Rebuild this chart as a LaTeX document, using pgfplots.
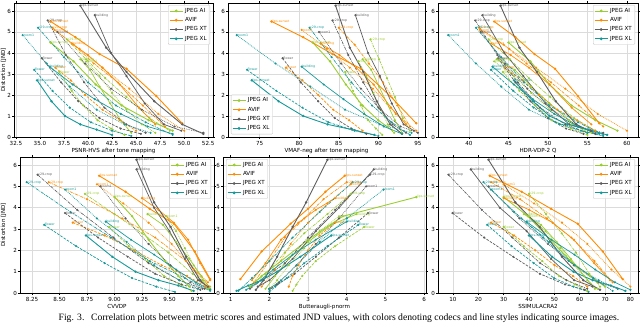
\documentclass[border=0pt]{standalone}
\usepackage{pgfplots}
\pgfplotsset{compat=1.18}
\usepackage{fontspec}
\setmainfont{DejaVu Sans}
\newfontfamily\capfont{Liberation Serif}
\definecolor{aicol}{HTML}{9ACD32}
\definecolor{avcol}{HTML}{FF8C00}
\definecolor{xtcol}{HTML}{5E5E5E}
\definecolor{xlcol}{HTML}{17999A}
\newcommand\fs{\fontsize{5.6}{6.2}\selectfont}
\newcommand\lfs{\fontsize{3.2}{3.5}\selectfont}
\pgfplotsset{
  pan/.style={scale only axis, anchor=south west, ymin=0, ymax=6.38, ytick={0,1,2,3,4,5,6}, yticklabels={0,1,2,3,4,5,6},
    xmajorgrids, ymajorgrids, grid style={gray!28, line width=0.5bp},
    tick align=outside, major tick length=2bp, tick style={black, line width=0.5bp},
    axis line style={line width=0.5bp},
    tick label style={font=\fs}, label style={font=\fs},
    xticklabel style={yshift=1.2bp}, yticklabel style={inner sep=1bp},
    xlabel style={yshift=4.5bp},
    legend cell align=left,
    legend style={font=\fs, draw=gray!45, fill=white, fill opacity=0.85, text opacity=1, rounded corners=1bp, inner xsep=1bp, inner ysep=0.9bp, row sep=-0.3bp},
    legend image code/.code={\draw[mark repeat=2,mark phase=2] plot coordinates {(0bp,0bp) (6.5bp,0bp) (13bp,0bp)};},
  },
  cAI/.style={draw=aicol, mark=*, mark size=0.7bp, mark options={solid, fill=aicol, draw=aicol}, forget plot},
  cAV/.style={draw=avcol, mark=*, mark size=0.7bp, mark options={solid, fill=avcol, draw=avcol}, forget plot},
  cXT/.style={draw=xtcol, mark=*, mark size=0.7bp, mark options={solid, fill=xtcol, draw=xtcol}, forget plot},
  cXL/.style={draw=xlcol, mark=*, mark size=0.7bp, mark options={solid, fill=xlcol, draw=xlcol}, forget plot},
  gAI/.style={draw=aicol, mark=*, mark size=1bp, mark options={solid, fill=aicol, draw=aicol}, line width=0.8bp},
  gAV/.style={draw=avcol, mark=*, mark size=1bp, mark options={solid, fill=avcol, draw=avcol}, line width=0.8bp},
  gXT/.style={draw=xtcol, mark=*, mark size=1bp, mark options={solid, fill=xtcol, draw=xtcol}, line width=0.8bp},
  gXL/.style={draw=xlcol, mark=*, mark size=1bp, mark options={solid, fill=xlcol, draw=xlcol}, line width=0.8bp},
  lp/.style={solid, line width=0.9bp},
  bd/.style={solid, line width=0.7bp},
  cc/.style={dash pattern=on 3bp off 1bp on 0.8bp off 1bp, line width=0.65bp},
  zm/.style={dash pattern=on 0.8bp off 1bp, line width=0.7bp},
  fl/.style={dash pattern=on 2.6bp off 1.3bp, line width=0.7bp},
}
\newcommand\legs{\addlegendimage{gAI}\addlegendentry{JPEG AI}\addlegendimage{gAV}\addlegendentry{AVIF}\addlegendimage{gXT}\addlegendentry{JPEG XT}\addlegendimage{gXL}\addlegendentry{JPEG XL}}
\newcommand\lab[2]{\addplot[forget plot, draw=none, mark=none, point meta=explicit symbolic, nodes near coords, nodes near coords style={font=\lfs, text=#1, anchor=west, inner sep=0.5bp}] coordinates {#2};}
\begin{document}
\begin{tikzpicture}
\path[use as bounding box] (0,0) rectangle (640bp,323bp);
% ---------------- Panel 1: PSNR-HVS
\begin{axis}[pan, at={(14bp,186bp)}, width=199bp, height=134bp, xmin=32.3, xmax=53.0,
  xtick={32.5,35,37.5,40,42.5,45,47.5,50,52.5}, xticklabels={32.5,35.0,37.5,40.0,42.5,45.0,47.5,50.0,52.5},
  xlabel={PSNR-HVS after tone mapping}, ylabel={Distortion [JND]},
  every axis y label/.style={at={(axis description cs:-0.053,0.5)}, anchor=center, rotate=90, font=\fs},
  legend style={at={(0.985,0.985)}, anchor=north east}]
\addplot[cAI,lp] coordinates {(36.1,4.5)(38.5,3.6)(40.8,2.5)(43.5,1.5)(46.3,0.8)(48.8,0.3)};
\addplot[cAI,bd] coordinates {(39.2,3.7)(40.2,3.2)(41.2,2.4)(42.3,1.6)(43.4,0.8)(44.5,0.2)};
\addplot[cAI,cc] coordinates {(37.8,4.65)(39.8,3.7)(41.8,2.8)(44.0,1.9)(46.4,0.9)(48.5,0.3)};
\addplot[cAI,zm] coordinates {(39.8,3.6)(41.2,2.9)(42.5,2.1)(44.0,1.3)(45.6,0.6)(47.0,0.2)};
\addplot[cAI,fl] coordinates {(37.0,3.1)(38.3,2.2)(39.5,1.5)(41.0,0.8)(42.4,0.4)(43.8,0.1)};
\addplot[cAV,lp] coordinates {(36.1,5.5)(38.7,4.75)(41.2,3.95)(44.0,3.25)(47.1,1.95)(49.8,0.65)};
\addplot[cAV,bd] coordinates {(38.3,4.45)(40.0,3.9)(41.5,3.3)(43.3,2.5)(45.3,1.4)(47.0,0.6)};
\addplot[cAV,cc] coordinates {(36.3,5.2)(38.5,4.4)(40.6,3.5)(43.1,2.6)(45.7,1.5)(48.0,0.5)};
\addplot[cAV,zm] coordinates {(36.5,5.1)(39.1,4.2)(41.5,3.3)(44.3,2.3)(47.3,1.1)(50.0,0.3)};
\addplot[cAV,fl] coordinates {(36.6,3.3)(38.2,2.7)(39.7,2.0)(41.5,1.3)(43.3,0.8)(45.0,0.3)};
\addplot[cXT,lp] coordinates {(39.2,6.25)(41.9,4.25)(44.0,3.1)(46.9,1.7)(49.8,0.6)(52.0,0.15)};
\addplot[cXT,bd] coordinates {(40.7,5.8)(42.4,4.0)(44.0,2.9)(45.9,1.6)(47.9,0.6)(49.7,0.3)};
\addplot[cXT,cc] coordinates {(35.8,5.55)(37.7,3.9)(39.6,2.6)(41.7,1.4)(44.0,0.6)(46.0,0.2)};
\addplot[cXT,zm] coordinates {(36.8,5.0)(39.7,3.5)(42.4,2.3)(45.6,1.3)(49.0,0.5)(52.0,0.2)};
\addplot[cXT,fl] coordinates {(35.2,3.75)(37.2,2.6)(39.0,1.7)(41.2,0.9)(43.4,0.4)(45.5,0.15)};
\addplot[cXL,lp] coordinates {(34.7,2.7)(36.2,1.7)(37.6,1.0)(39.2,0.6)(40.9,0.35)(42.5,0.1)};
\addplot[cXL,bd] coordinates {(36.0,3.35)(38.4,2.5)(40.7,1.8)(43.4,1.1)(46.2,0.5)(48.8,0.15)};
\addplot[cXL,cc] coordinates {(34.8,5.2)(37.5,3.8)(40.0,2.6)(42.9,1.5)(46.0,0.7)(48.8,0.1)};
\addplot[cXL,zm] coordinates {(33.2,4.85)(35.7,3.5)(38.1,2.4)(40.9,1.3)(43.8,0.6)(46.5,0.2)};
\addplot[cXL,fl] coordinates {(34.4,3.2)(36.3,2.2)(38.1,1.4)(40.3,0.7)(42.5,0.3)(44.5,0.05)};
\lab{aicol}{(36.1,4.5)[lips-sunset] (39.2,3.7)[building] (37.8,4.65)[c29-crop] (39.8,3.6)[zoom1] (37.0,3.1)[flower]}
\lab{avcol}{(36.1,5.5)[lips-sunset] (38.3,4.45)[building] (36.3,5.2)[c29-crop] (36.5,5.1)[zoom1] (36.6,3.3)[flower]}
\lab{xtcol}{(39.2,6.25)[lips-sunset] (40.7,5.8)[building] (35.8,5.55)[c29-crop] (36.8,5.0)[zoom1] (35.2,3.75)[flower]}
\lab{xlcol}{(34.7,2.7)[lips-sunset] (36.0,3.35)[building] (34.8,5.2)[c29-crop] (33.2,4.85)[zoom1] (34.4,3.2)[flower]}
\legs
\end{axis}
% ---------------- Panel 2: VMAF-neg
\begin{axis}[pan, at={(228bp,186bp)}, width=197bp, height=134bp, xmin=71, xmax=95.9,
  xtick={75,80,85,90,95}, xticklabels={75,80,85,90,95},
  xlabel={VMAF-neg after tone mapping},
  legend style={at={(0.015,0.02)}, anchor=south west}]
\addplot[cAI,lp] coordinates {(81.7,4.5)(83.9,3.6)(85.9,2.5)(88.0,1.5)(90.0,0.8)(91.8,0.3)};
\addplot[cAI,bd] coordinates {(88.0,3.7)(89.1,3.2)(90.1,2.4)(91.1,1.6)(92.1,0.8)(93.0,0.2)};
\addplot[cAI,cc] coordinates {(89.0,4.65)(90.1,3.7)(91.1,2.8)(92.1,1.9)(93.1,0.9)(94.0,0.3)};
\addplot[cAI,zm] coordinates {(87.5,3.6)(88.5,2.9)(89.4,2.1)(90.3,1.3)(91.2,0.6)(92.0,0.2)};
\addplot[cAI,fl] coordinates {(85.8,3.1)(86.8,2.2)(87.8,1.5)(88.7,0.8)(89.7,0.4)(90.5,0.1)};
\addplot[cAV,lp] coordinates {(76.5,5.5)(80.5,4.75)(84.2,3.95)(87.8,3.25)(91.5,1.95)(94.8,0.65)};
\addplot[cAV,bd] coordinates {(82.7,4.45)(85.1,3.9)(87.2,3.3)(89.4,2.5)(91.6,1.4)(93.5,0.6)};
\addplot[cAV,cc] coordinates {(85.0,5.2)(87.0,4.4)(88.8,3.5)(90.6,2.6)(92.4,1.5)(94.0,0.5)};
\addplot[cAV,zm] coordinates {(80.3,5.1)(83.5,4.2)(86.4,3.3)(89.3,2.3)(92.2,1.1)(94.8,0.3)};
\addplot[cAV,fl] coordinates {(78.3,3.3)(80.4,2.7)(82.4,2.0)(84.3,1.3)(86.3,0.8)(88.0,0.3)};
\addplot[cXT,lp] coordinates {(84.6,6.25)(86.4,4.25)(88.1,3.1)(89.8,1.7)(91.5,0.6)(93.0,0.15)};
\addplot[cXT,bd] coordinates {(87.1,5.8)(88.7,4.0)(90.2,2.9)(91.7,1.6)(93.2,0.6)(94.5,0.3)};
\addplot[cXT,cc] coordinates {(84.2,5.55)(86.2,3.9)(88.1,2.6)(90.0,1.4)(91.8,0.6)(93.5,0.2)};
\addplot[cXT,zm] coordinates {(82.5,5.0)(85.3,3.5)(87.8,2.3)(90.3,1.3)(92.8,0.5)(95.0,0.2)};
\addplot[cXT,fl] coordinates {(77.9,3.75)(80.2,2.6)(82.4,1.7)(84.5,0.9)(86.6,0.4)(88.5,0.15)};
\addplot[cXL,lp] coordinates {(74.0,2.7)(77.4,1.7)(80.5,1.0)(83.6,0.6)(86.7,0.35)(89.5,0.1)};
\addplot[cXL,bd] coordinates {(80.3,3.35)(83.1,2.5)(85.6,1.8)(88.2,1.1)(90.7,0.5)(93.0,0.15)};
\addplot[cXL,cc] coordinates {(81.3,5.2)(84.1,3.8)(86.6,2.6)(89.2,1.5)(91.7,0.7)(94.0,0.1)};
\addplot[cXL,zm] coordinates {(72.1,4.85)(77.0,3.5)(81.4,2.4)(85.8,1.3)(90.2,0.6)(94.2,0.2)};
\addplot[cXL,fl] coordinates {(73.4,3.2)(77.1,2.2)(80.4,1.4)(83.7,0.7)(87.0,0.3)(90.0,0.05)};
\lab{aicol}{(81.7,4.5)[lips-sunset] (88.0,3.7)[building] (89.0,4.65)[c29-crop] (87.5,3.6)[zoom1] (85.8,3.1)[flower]}
\lab{avcol}{(76.5,5.5)[lips-sunset] (82.7,4.45)[building] (85.0,5.2)[c29-crop] (80.3,5.1)[zoom1] (78.3,3.3)[flower]}
\lab{xtcol}{(84.6,6.25)[lips-sunset] (87.1,5.8)[building] (84.2,5.55)[c29-crop] (82.5,5.0)[zoom1] (77.9,3.75)[flower]}
\lab{xlcol}{(74.0,2.7)[lips-sunset] (80.3,3.35)[building] (81.3,5.2)[c29-crop] (72.1,4.85)[zoom1] (73.4,3.2)[flower]}
\legs
\end{axis}
% ---------------- Panel 3: HDR-VDP-2 Q
\begin{axis}[pan, at={(438bp,186bp)}, width=200bp, height=134bp, xmin=36.1, xmax=61.4,
  xtick={40,45,50,55,60}, xticklabels={40,45,50,55,60},
  xlabel={HDR-VDP-2 Q},
  legend style={at={(0.985,0.985)}, anchor=north east}]
\addplot[cAI,lp] coordinates {(45.0,4.5)(47.8,3.6)(50.2,2.5)(53.0,1.5)(56.0,0.8)(58.8,0.3)};
\addplot[cAI,bd] coordinates {(43.5,3.7)(45.8,3.2)(47.9,2.4)(50.2,1.6)(52.7,0.8)(55.0,0.2)};
\addplot[cAI,cc] coordinates {(42.5,4.65)(45.2,3.7)(47.6,2.8)(50.3,1.9)(53.3,0.9)(56.0,0.3)};
\addplot[cAI,zm] coordinates {(43.2,3.6)(45.7,2.9)(47.9,2.1)(50.3,1.3)(53.0,0.6)(55.5,0.2)};
\addplot[cAI,fl] coordinates {(44.3,3.1)(46.4,2.2)(48.4,1.5)(50.5,0.8)(52.9,0.4)(55.0,0.1)};
\addplot[cAV,lp] coordinates {(43.2,5.5)(45.9,4.75)(48.3,3.95)(50.9,3.25)(53.8,1.95)(56.5,0.65)};
\addplot[cAV,bd] coordinates {(42.8,4.45)(45.3,3.9)(47.6,3.3)(50.2,2.5)(53.0,1.4)(55.5,0.6)};
\addplot[cAV,cc] coordinates {(41.3,5.2)(44.4,4.4)(47.3,3.5)(50.4,2.6)(53.9,1.5)(57.0,0.5)};
\addplot[cAV,zm] coordinates {(41.4,5.1)(45.1,4.2)(48.5,3.3)(52.2,2.3)(56.3,1.1)(60.0,0.3)};
\addplot[cAV,fl] coordinates {(44.5,3.3)(46.8,2.7)(48.9,2.0)(51.2,1.3)(53.7,0.8)(56.0,0.3)};
\addplot[cXT,lp] coordinates {(44.0,6.25)(46.4,4.25)(48.6,3.1)(51.0,1.7)(53.6,0.6)(56.0,0.15)};
\addplot[cXT,bd] coordinates {(41.7,5.8)(44.5,4.0)(46.9,2.9)(49.7,1.6)(52.7,0.6)(55.5,0.3)};
\addplot[cXT,cc] coordinates {(40.8,5.55)(43.6,3.9)(46.2,2.6)(49.0,1.4)(52.2,0.6)(55.0,0.2)};
\addplot[cXT,zm] coordinates {(41.5,5.0)(44.6,3.5)(47.4,2.3)(50.5,1.3)(53.9,0.5)(57.0,0.2)};
\addplot[cXT,fl] coordinates {(43.7,3.75)(45.9,2.6)(47.8,1.7)(50.0,0.9)(52.3,0.4)(54.5,0.15)};
\addplot[cXL,lp] coordinates {(45.7,2.7)(48.1,1.7)(50.2,1.0)(52.5,0.6)(55.1,0.35)(57.5,0.1)};
\addplot[cXL,bd] coordinates {(43.0,3.35)(45.7,2.5)(48.1,1.8)(50.8,1.1)(53.8,0.5)(56.5,0.15)};
\addplot[cXL,cc] coordinates {(40.9,5.2)(44.1,3.8)(47.0,2.6)(50.2,1.5)(53.8,0.7)(57.0,0.1)};
\addplot[cXL,zm] coordinates {(37.4,4.85)(40.9,3.5)(44.1,2.4)(47.6,1.3)(51.5,0.6)(55.0,0.2)};
\addplot[cXL,fl] coordinates {(42.8,3.2)(45.6,2.2)(48.2,1.4)(51.0,0.7)(54.2,0.3)(57.0,0.05)};
\lab{aicol}{(45.0,4.5)[lips-sunset] (43.5,3.7)[building] (42.5,4.65)[c29-crop] (43.2,3.6)[zoom1] (44.3,3.1)[flower]}
\lab{avcol}{(43.2,5.5)[lips-sunset] (42.8,4.45)[building] (41.3,5.2)[c29-crop] (41.4,5.1)[zoom1] (44.5,3.3)[flower]}
\lab{xtcol}{(44.0,6.25)[lips-sunset] (41.7,5.8)[building] (40.8,5.55)[c29-crop] (41.5,5.0)[zoom1] (43.7,3.75)[flower]}
\lab{xlcol}{(45.7,2.7)[lips-sunset] (43.0,3.35)[building] (40.9,5.2)[c29-crop] (37.4,4.85)[zoom1] (42.8,3.2)[flower]}
\legs
\end{axis}
% ---------------- Panel 4: CVVDP
\begin{axis}[pan, at={(20bp,30bp)}, width=194bp, height=136bp, xmin=8.14, xmax=9.905,
  xtick={8.25,8.5,8.75,9,9.25,9.5,9.75}, xticklabels={8.25,8.50,8.75,9.00,9.25,9.50,9.75},
  xlabel={CVVDP}, ylabel={Distortion [JND]},
  every axis y label/.style={at={(axis description cs:-0.085,0.5)}, anchor=center, rotate=90, font=\fs},
  legend style={at={(0.985,0.985)}, anchor=north east}]
\addplot[cAI,lp] coordinates {(9.00,4.5)(9.16,3.6)(9.31,2.5)(9.46,1.5)(9.58,0.8)(9.68,0.3)};
\addplot[cAI,bd] coordinates {(9.30,3.7)(9.44,3.2)(9.56,2.4)(9.68,1.6)(9.79,0.8)(9.87,0.2)};
\addplot[cAI,cc] coordinates {(8.73,4.65)(9.00,3.7)(9.25,2.8)(9.49,1.9)(9.71,0.9)(9.87,0.3)};
\addplot[cAI,zm] coordinates {(9.47,3.6)(9.56,2.9)(9.64,2.1)(9.72,1.3)(9.80,0.6)(9.85,0.2)};
\addplot[cAI,fl] coordinates {(8.95,3.1)(9.13,2.2)(9.30,1.5)(9.45,0.8)(9.60,0.4)(9.70,0.1)};
\addplot[cAV,lp] coordinates {(8.86,5.5)(9.10,4.75)(9.32,3.95)(9.54,3.25)(9.73,1.95)(9.87,0.65)};
\addplot[cAV,bd] coordinates {(9.25,4.45)(9.40,3.9)(9.54,3.3)(9.67,2.5)(9.78,1.4)(9.87,0.6)};
\addplot[cAV,cc] coordinates {(8.40,5.2)(8.75,4.4)(9.07,3.5)(9.37,2.6)(9.65,1.5)(9.85,0.5)};
\addplot[cAV,zm] coordinates {(8.84,5.1)(9.08,4.2)(9.31,3.3)(9.52,2.3)(9.72,1.1)(9.86,0.3)};
\addplot[cAV,fl] coordinates {(8.62,3.3)(8.91,2.7)(9.18,2.0)(9.43,1.3)(9.66,0.8)(9.83,0.3)};
\addplot[cXT,lp] coordinates {(9.20,6.25)(9.36,4.25)(9.51,3.1)(9.65,1.7)(9.78,0.6)(9.87,0.15)};
\addplot[cXT,bd] coordinates {(9.20,5.8)(9.36,4.0)(9.50,2.9)(9.64,1.6)(9.76,0.6)(9.85,0.3)};
\addplot[cXT,cc] coordinates {(8.30,5.55)(8.66,3.9)(8.99,2.6)(9.31,1.4)(9.59,0.6)(9.80,0.2)};
\addplot[cXT,zm] coordinates {(8.87,5.0)(9.10,3.5)(9.31,2.3)(9.51,1.3)(9.69,0.5)(9.82,0.2)};
\addplot[cXT,fl] coordinates {(8.55,3.75)(8.85,2.6)(9.12,1.7)(9.37,0.9)(9.61,0.4)(9.78,0.15)};
\addplot[cXL,lp] coordinates {(8.74,2.7)(8.98,1.7)(9.19,1.0)(9.40,0.6)(9.58,0.35)(9.72,0.1)};
\addplot[cXL,bd] coordinates {(8.92,3.35)(9.15,2.5)(9.36,1.8)(9.56,1.1)(9.74,0.5)(9.87,0.15)};
\addplot[cXL,cc] coordinates {(8.20,5.2)(8.60,3.8)(8.97,2.6)(9.32,1.5)(9.64,0.7)(9.87,0.1)};
\addplot[cXL,zm] coordinates {(8.55,4.85)(8.84,3.5)(9.11,2.4)(9.36,1.3)(9.59,0.6)(9.76,0.2)};
\addplot[cXL,fl] coordinates {(8.36,3.2)(8.65,2.2)(8.91,1.4)(9.16,0.7)(9.38,0.3)(9.55,0.05)};
\lab{aicol}{(9.00,4.5)[lips-sunset] (9.30,3.7)[building] (8.73,4.65)[c29-crop] (9.47,3.6)[zoom1] (8.95,3.1)[flower]}
\lab{avcol}{(8.86,5.5)[lips-sunset] (9.25,4.45)[building] (8.40,5.2)[c29-crop] (8.84,5.1)[zoom1] (8.62,3.3)[flower]}
\lab{xtcol}{(9.20,6.25)[lips-sunset] (9.20,5.8)[building] (8.30,5.55)[c29-crop] (8.87,5.0)[zoom1] (8.55,3.75)[flower]}
\lab{xlcol}{(8.74,2.7)[lips-sunset] (8.92,3.35)[building] (8.20,5.2)[c29-crop] (8.55,4.85)[zoom1] (8.36,3.2)[flower]}
\legs
\end{axis}
% ---------------- Panel 5: Butteraugli
\begin{axis}[pan, at={(223bp,30bp)}, width=203bp, height=136bp, xmin=0.8, xmax=6.05,
  xtick={1,2,3,4,5,6}, xticklabels={1,2,3,4,5,6},
  xlabel={Butteraugli-pnorm},
  legend style={at={(0.015,0.985)}, anchor=north west}]
\addplot[cAI,lp] coordinates {(5.8,4.5)(3.9,3.6)(3.0,2.5)(2.3,1.5)(1.8,0.8)(1.5,0.3)};
\addplot[cAI,bd] coordinates {(4.25,3.7)(3.6,3.2)(3.0,2.4)(2.5,1.6)(2.15,0.8)(1.9,0.2)};
\addplot[cAI,cc] coordinates {(4.1,4.65)(3.5,3.7)(2.9,2.8)(2.4,1.9)(1.9,0.9)(1.5,0.3)};
\addplot[cAI,zm] coordinates {(3.8,3.6)(3.3,2.9)(2.9,2.1)(2.5,1.3)(2.2,0.6)(2.0,0.2)};
\addplot[cAI,fl] coordinates {(4.45,3.1)(3.7,2.2)(3.2,1.5)(2.85,0.8)(2.7,0.4)(2.6,0.1)};
\addplot[cAV,lp] coordinates {(3.95,5.5)(3.45,4.75)(3.0,3.95)(2.55,3.25)(1.8,1.95)(1.25,0.65)};
\addplot[cAV,bd] coordinates {(3.7,4.45)(3.2,3.9)(2.75,3.3)(2.3,2.5)(1.9,1.4)(1.55,0.6)};
\addplot[cAV,cc] coordinates {(4.0,5.2)(3.4,4.4)(2.9,3.5)(2.4,2.6)(2.0,1.5)(1.6,0.5)};
\addplot[cAV,zm] coordinates {(4.1,5.1)(3.5,4.2)(3.0,3.3)(2.55,2.3)(2.15,1.1)(1.8,0.3)};
\addplot[cAV,fl] coordinates {(3.7,3.3)(3.3,2.7)(3.0,2.0)(2.75,1.3)(2.6,0.8)(2.5,0.3)};
\addplot[cXT,lp] coordinates {(3.5,6.25)(2.95,4.25)(2.6,3.1)(2.2,1.7)(1.85,0.6)(1.65,0.15)};
\addplot[cXT,bd] coordinates {(4.7,5.8)(3.8,4.0)(3.2,2.9)(2.6,1.6)(2.0,0.6)(1.7,0.3)};
\addplot[cXT,cc] coordinates {(4.6,5.55)(3.7,3.9)(3.0,2.6)(2.4,1.4)(1.8,0.6)(1.5,0.2)};
\addplot[cXT,zm] coordinates {(4.5,5.0)(3.8,3.5)(3.2,2.3)(2.7,1.3)(2.25,0.5)(2.0,0.2)};
\addplot[cXT,fl] coordinates {(4.55,3.75)(3.8,2.6)(3.2,1.7)(2.65,0.9)(2.2,0.4)(2.0,0.15)};
\addplot[cXL,lp] coordinates {(3.6,2.7)(2.8,1.7)(2.2,1.0)(1.8,0.6)(1.45,0.35)(1.15,0.1)};
\addplot[cXL,bd] coordinates {(4.0,3.35)(3.2,2.5)(2.6,1.8)(2.1,1.1)(1.7,0.5)(1.4,0.15)};
\addplot[cXL,cc] coordinates {(4.15,5.2)(3.3,3.8)(2.6,2.6)(2.0,1.5)(1.55,0.7)(1.2,0.1)};
\addplot[cXL,zm] coordinates {(4.95,4.85)(4.0,3.5)(3.3,2.4)(2.7,1.3)(2.3,0.6)(2.0,0.2)};
\addplot[cXL,fl] coordinates {(4.3,3.2)(3.5,2.2)(2.9,1.4)(2.45,0.7)(2.15,0.3)(2.0,0.05)};
\lab{aicol}{(5.8,4.5)[lips-sunset] (4.25,3.7)[building] (4.1,4.65)[c29-crop] (3.8,3.6)[zoom1] (4.45,3.1)[flower]}
\lab{avcol}{(3.95,5.5)[lips-sunset] (3.7,4.45)[building] (4.0,5.2)[c29-crop] (4.1,5.1)[zoom1] (3.7,3.3)[flower]}
\lab{xtcol}{(3.5,6.25)[lips-sunset] (4.7,5.8)[building] (4.6,5.55)[c29-crop] (4.5,5.0)[zoom1] (4.55,3.75)[flower]}
\lab{xlcol}{(3.6,2.7)[lips-sunset] (4.0,3.35)[building] (4.15,5.2)[c29-crop] (4.95,4.85)[zoom1] (4.3,3.2)[flower]}
\legs
\end{axis}
% ---------------- Panel 6: SSIMULACRA2
\begin{axis}[pan, at={(438bp,30bp)}, width=200bp, height=136bp, xmin=4.1, xmax=83,
  xtick={10,20,30,40,50,60,70,80}, xticklabels={10,20,30,40,50,60,70,80},
  xlabel={SSIMULACRA2},
  legend style={at={(0.985,0.985)}, anchor=north east}]
\addplot[cAI,lp] coordinates {(30,4.5)(39.6,3.6)(48.4,2.5)(56.4,1.5)(64.0,0.8)(70,0.3)};
\addplot[cAI,bd] coordinates {(38,3.7)(44.7,3.2)(50.9,2.4)(56.5,1.6)(61.8,0.8)(66,0.2)};
\addplot[cAI,cc] coordinates {(40,4.65)(46.7,3.7)(52.9,2.8)(58.5,1.9)(63.8,0.9)(68,0.3)};
\addplot[cAI,zm] coordinates {(40,3.6)(46.5,2.9)(52.4,2.1)(57.8,1.3)(63.0,0.6)(67,0.2)};
\addplot[cAI,fl] coordinates {(30,3.1)(37.9,2.2)(45.2,1.5)(51.8,0.8)(58.1,0.4)(63,0.1)};
\addplot[cAV,lp] coordinates {(24.5,5.5)(37.1,4.75)(48.7,3.95)(59.2,3.25)(69.1,1.95)(77,0.65)};
\addplot[cAV,bd] coordinates {(30,4.45)(40.1,3.9)(49.3,3.3)(57.7,2.5)(65.7,1.4)(72,0.6)};
\addplot[cAV,cc] coordinates {(25,5.2)(36.5,4.4)(47.1,3.5)(56.7,2.6)(65.8,1.5)(73,0.5)};
\addplot[cAV,zm] coordinates {(30,5.1)(42,4.2)(53,3.3)(63,2.3)(72.5,1.1)(80,0.3)};
\addplot[cAV,fl] coordinates {(25,3.3)(34.1,2.7)(42.5,2.0)(50.1,1.3)(57.3,0.8)(63,0.3)};
\addplot[cXT,lp] coordinates {(24,6.25)(34.6,4.25)(44.2,3.1)(53.0,1.7)(61.4,0.6)(68,0.15)};
\addplot[cXT,bd] coordinates {(17,5.8)(28.5,4.0)(39.1,2.9)(48.7,1.6)(57.8,0.6)(65,0.3)};
\addplot[cXT,cc] coordinates {(8.2,5.55)(21.4,3.9)(33.4,2.6)(44.4,1.4)(54.8,0.6)(63,0.2)};
\addplot[cXT,zm] coordinates {(24,5.0)(36.2,3.5)(47.5,2.3)(57.7,1.3)(67.4,0.5)(75,0.2)};
\addplot[cXT,fl] coordinates {(9.8,3.75)(22.3,2.6)(33.8,1.7)(44.3,0.9)(54.2,0.4)(62,0.15)};
\addplot[cXL,lp] coordinates {(40,2.7)(49.1,1.7)(57.5,1.0)(65.1,0.6)(72.3,0.35)(78,0.1)};
\addplot[cXL,bd] coordinates {(39,3.35)(48.8,2.5)(57.9,1.8)(66.1,1.1)(73.9,0.5)(80,0.15)};
\addplot[cXL,cc] coordinates {(22,5.2)(34.2,3.8)(45.5,2.6)(55.7,1.5)(65.4,0.7)(73,0.1)};
\addplot[cXL,zm] coordinates {(25,4.85)(37,3.5)(48,2.4)(58,1.3)(67.5,0.6)(75,0.2)};
\addplot[cXL,fl] coordinates {(23.5,3.2)(33.1,2.2)(41.9,1.4)(49.9,0.7)(57.5,0.3)(63.5,0.05)};
\lab{aicol}{(30,4.5)[lips-sunset] (38,3.7)[building] (40,4.65)[c29-crop] (40,3.6)[zoom1] (30,3.1)[flower]}
\lab{avcol}{(24.5,5.5)[lips-sunset] (30,4.45)[building] (25,5.2)[c29-crop] (30,5.1)[zoom1] (25,3.3)[flower]}
\lab{xtcol}{(24,6.25)[lips-sunset] (17,5.8)[building] (8.2,5.55)[c29-crop] (24,5.0)[zoom1] (9.8,3.75)[flower]}
\lab{xlcol}{(40,2.7)[lips-sunset] (39,3.35)[building] (22,5.2)[c29-crop] (25,4.85)[zoom1] (23.5,3.2)[flower]}
\legs
\end{axis}
\node[font=\capfont\fontsize{9.7}{10.5}\selectfont, anchor=base] at (339bp,3bp) {Fig. 3.\hspace{0.7em}Correlation plots between metric scores and estimated JND values, with colors denoting codecs and line styles indicating source images.};
\end{tikzpicture}
\end{document}
